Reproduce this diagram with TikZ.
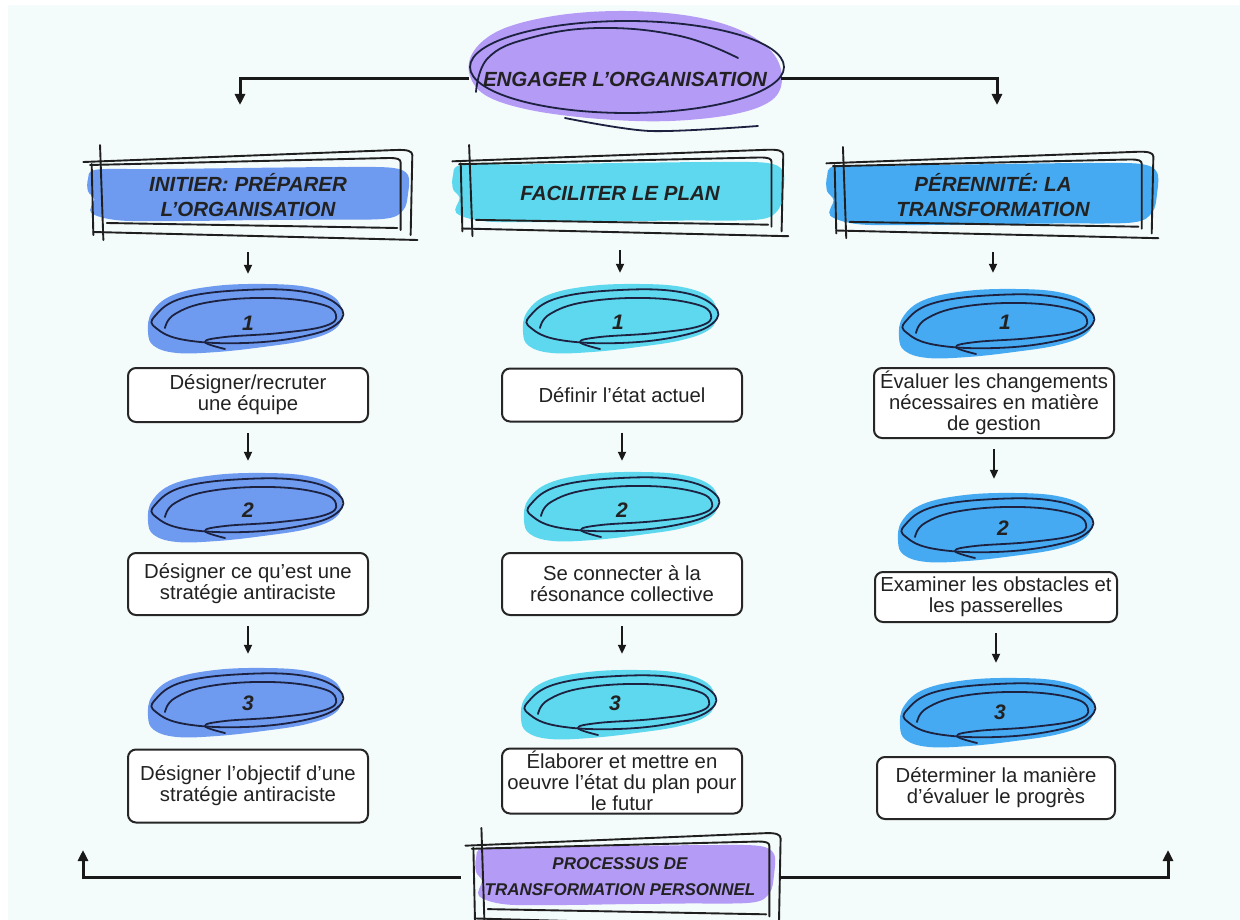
\documentclass[tikz,border=0pt]{standalone}
\usepackage{fontspec}
\setmainfont{Liberation Sans}
\usetikzlibrary{arrows.meta,shapes.geometric}
\definecolor{bgc}{HTML}{F4FBFB}
\definecolor{cA}{HTML}{6E9BF0}
\definecolor{cB}{HTML}{5ED8EE}
\definecolor{cC}{HTML}{46AAF2}
\definecolor{purp}{HTML}{B49BF5}
\definecolor{ink}{HTML}{1D2240}
\definecolor{txt}{HTML}{222222}
\newcommand\mybody{\fontsize{20.3}{21}\selectfont}
\newcommand\myhdr{\fontsize{20.5}{24.5}\selectfont\bfseries\itshape}
\newcommand\mybot{\fontsize{17}{26}\selectfont\bfseries\itshape}
\newcommand\mynum{\fontsize{21}{22}\selectfont\bfseries\itshape}
\newcommand\brushfill[5]{%
\begin{scope}[shift={(#1,#2)},xscale=#3,yscale=#4]
\fill[#5] plot[smooth cycle,tension=0.55] coordinates {(-1.00,-0.55) (-0.95,-0.90) (-0.6,-0.92) (-0.2,-0.95) (0.2,-0.98) (0.6,-1.0) (0.9,-0.97) (1.0,-0.7) (1.0,0.0) (0.97,0.6) (0.85,0.92) (0.4,0.95) (0.0,0.97) (-0.4,1.0) (-0.8,0.98) (-0.98,0.7) (-0.96,0.2) (-1.0,-0.1)};
\end{scope}}
\newcommand\scribframe[4]{%
\begin{scope}[shift={(#1,#2)},xscale=#3,yscale=#4]
\draw[framel] (-1.01,-0.66) -- (0.86,-0.9) .. controls (0.93,-0.91) and (0.96,-0.88) .. (0.96,-0.8) -- (0.95,0.8);
\draw[framel] (-0.97,-0.6) -- (0.82,-0.74) .. controls (0.87,-0.74) and (0.89,-0.72) .. (0.89,-0.65) -- (0.89,0.7);
\draw[framel] (-0.95,0.74) -- (0.99,0.9);
\draw[framel] (-0.87,0.56) -- (0.87,0.66);
\draw[framel] (-0.91,-1.0) -- (-0.89,0.9);
\draw[framel] (-0.96,-0.62) -- (-0.95,0.8);
\end{scope}}
\newcommand\numblob[3]{%
\begin{scope}[shift={(#1,#2)}]
\fill[#3] plot[smooth cycle,tension=0.65] coordinates {(-97,14) (-93,-6) (-72,-23) (-30,-32) (20,-34) (62,-31) (89,-21) (97,-5) (90,11) (62,22) (18,29) (-28,34) (-68,35) (-91,28)};
\draw[scrib] plot[smooth cycle,tension=0.7] coordinates {(-90,-2) (-62,-20) (0,-28) (60,-26) (94,-12) (93,5) (60,18) (0,25) (-60,22) (-89,10)};
\draw[scrib] plot[smooth,tension=0.7] coordinates {(-80,10) (-70,-4) (-35,-16) (25,-20) (75,-14) (91,-3) (80,8) (35,15) (-20,19) (-40,24) (-20,31)};
\end{scope}}
\begin{document}
\begin{tikzpicture}[x=1pt,y=-1pt,
  scrib/.style={draw=ink,line width=1.8pt,line cap=round,line join=round},
  framel/.style={draw=black!88,line width=1.9pt,line cap=round,line join=round},
  arr/.style={draw=black!90,line width=2pt,-{Triangle[length=9pt,width=8pt]},shorten <=10pt,shorten >=16pt},
  bigarr/.style={draw=black!90,line width=3pt,-{Triangle[length=11pt,width=10pt]}},
  txtbox/.style={draw=black!85,fill=white,line width=2pt,rounded corners=8pt,minimum width=240pt,inner sep=0pt,align=center,font=\mybody,text=txt},
  numnode/.style={rectangle,minimum width=194pt,minimum height=66pt,inner sep=0pt,font=\mynum,text=txt},
  hdr/.style={rectangle,minimum width=330pt,minimum height=94pt,inner sep=0pt,align=center,font=\myhdr,text=txt}]
\useasboundingbox (0,0) rectangle (1240,920);
\fill[white] (0,0) rectangle (1240,920);
\fill[bgc] (8,5) rectangle (1240,920);

% ---- top node
\fill[purp] plot[smooth cycle,tension=0.6] coordinates {(469,72) (476,48) (505,28) (560,15) (625,11) (690,16) (740,30) (772,52) (782,78) (772,100) (735,114) (670,121) (600,119) (530,110) (485,95)};
\draw[scrib] (627,67) ellipse [x radius=157, y radius=46];
\draw[scrib] plot[smooth,tension=0.7] coordinates {(476,92) (488,58) (530,38) (600,28) (680,36) (738,58)};
\draw[scrib] plot[smooth] coordinates {(565,118) (650,131) (758,126)};
\node[rectangle,minimum width=312pt,minimum height=100pt,inner sep=0pt,font=\myhdr,text=txt] (top) at (625,79) {ENGAGER L’ORGANISATION};
\coordinate (tl) at (240,105);
\coordinate (tr) at (997,105);
\draw[bigarr] (top.west) -| (tl);
\draw[bigarr] (top.east) -| (tr);

% ---- headers
\brushfill{248}{194}{160}{27}{cA}
\scribframe{252}{195}{167}{50}
\node[hdr] (h1) at (248,195) {INITIER: PRÉPARER\\L’ORGANISATION};
\brushfill{618}{192}{165}{30}{cB}
\scribframe{622}{193}{168}{48}
\node[hdr] (h2) at (620,193) {FACILITER LE PLAN};
\brushfill{992}{194}{165}{31}{cC}
\scribframe{994}{195}{166}{48}
\node[hdr] (h3) at (993,195) {PÉRENNITÉ: LA\\TRANSFORMATION};

% ---- column 1
\numblob{245}{318}{cA}
\node[numnode] (e11) at (248,323) {1};
\node[txtbox,minimum height=54pt] (b11) at (248,395) {Désigner/recruter\\une équipe};
\numblob{245}{507}{cA}
\node[numnode] (e12) at (248,510) {2};
\node[txtbox,minimum height=62pt] (b12) at (248,584) {Désigner ce qu’est une\\stratégie antiraciste};
\numblob{245}{702}{cA}
\node[numnode] (e13) at (248,703) {3};
\node[txtbox,minimum height=73pt] (b13) at (248,786) {Désigner l’objectif d’une\\stratégie antiraciste};

% ---- column 2
\numblob{620}{318}{cB}
\node[numnode] (e21) at (618,322) {1};
\node[txtbox,minimum height=53pt] (b21) at (622,395) {Définir l’état actuel};
\numblob{621}{506}{cB}
\node[numnode] (e22) at (622,510) {2};
\node[txtbox,minimum height=62pt] (b22) at (622,584) {Se connecter à la\\résonance collective};
\numblob{618}{704}{cB}
\node[numnode] (e23) at (615,703) {3};
\node[txtbox,minimum height=65pt] (b23) at (622,781) {Élaborer et mettre en\\oeuvre l’état du plan pour\\le futur};

% ---- column 3
\numblob{996}{323}{cC}
\node[numnode] (e31) at (1005,322) {1};
\node[txtbox,minimum height=70pt] (b31) at (994,403) {Évaluer les changements\\nécessaires en matière\\de gestion};
\numblob{995}{527}{cC}
\node[numnode] (e32) at (1003,528) {2};
\node[txtbox,minimum height=50pt,minimum width=242pt] (b32) at (996,597) {Examiner les obstacles et\\les passerelles};
\numblob{997}{712}{cC}
\node[numnode] (e33) at (1000,712) {3};
\node[txtbox,minimum height=62pt,minimum width=238pt] (b33) at (996,788) {Déterminer la manière\\d’évaluer le progrès};

% ---- vertical arrows
\draw[arr] (h1.south) -- (h1.south |- e11.north);
\draw[arr] (b11.south) -- (b11.south |- e12.north);
\draw[arr] (b12.south) -- (b12.south |- e13.north);
\draw[arr] (h2.south) -- (h2.south |- e21.north);
\draw[arr] (b21.south) -- (b21.south |- e22.north);
\draw[arr] (b22.south) -- (b22.south |- e23.north);
\draw[arr] (h3.south) -- (h3.south |- e31.north);
\draw[arr] (b31.south) -- (b31.south |- e32.north);
\draw[arr] (b32.south) -- (b32.south |- e33.north);

% ---- bottom node
\brushfill{625}{875}{149}{30}{purp}
\scribframe{627}{880}{160}{52}
\node[rectangle,minimum width=318pt,minimum height=90pt,inner sep=0pt,align=center,font=\mybot,text=txt] (bot) at (620,877) {PROCESSUS DE\\TRANSFORMATION PERSONNEL};
\coordinate (bl) at (83,850);
\coordinate (br) at (1168,850);
\draw[bigarr] (bot.west) -| (bl);
\draw[bigarr] (bot.east) -| (br);
\end{tikzpicture}
\end{document}
